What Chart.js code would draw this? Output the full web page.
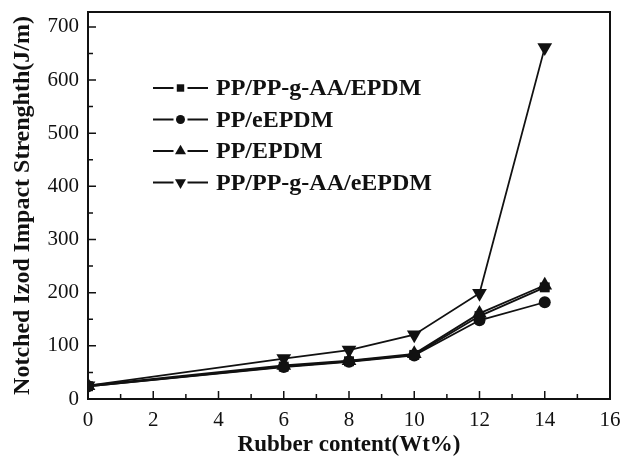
<!DOCTYPE html>
<html><head><meta charset="utf-8">
<script src="https://cdn.jsdelivr.net/npm/chart.js@4.4.0/dist/chart.umd.min.js"></script>
<style>html,body{margin:0;padding:0;background:#fff}canvas{display:block}</style>
</head><body>
<canvas id="c" width="621" height="461"></canvas>
<script>
// ---- data ----
const rubberContent = [0, 6, 8, 10, 12, 14];
const seriesNames = ['PP/PP-g-AA/EPDM', 'PP/eEPDM', 'PP/EPDM', 'PP/PP-g-AA/eEPDM'];
const ppGaaEpdm  = [24, 61, 71, 83, 156, 210];
const ppEepdm    = [24, 60, 70, 82, 148, 182];
const ppEpdm     = [25, 63, 72, 85, 161, 214];
const ppGaaEepdm = [25, 76, 92, 121, 199, 661];
const xMajorTicks = [0, 2, 4, 6, 8, 10, 12, 14, 16];
const xMinorTicks = [1, 3, 5, 7, 9, 11, 13, 15];
const yMajorTicks = [0, 100, 200, 300, 400, 500, 600, 700];
const yMinorTicks = [50, 150, 250, 350, 450, 550, 650];
const xTitle = 'Rubber content(Wt%)';
const yTitle = 'Notched Izod Impact Strenghth(J/m)';

const serif = "'Liberation Serif', 'Times New Roman', serif";
const toPts = vals => rubberContent.map((x, i) => ({x, y: vals[i]}));

const styles = [
  {pointStyle: 'rect', radius: 7, rotation: 0},
  {pointStyle: 'circle', radius: 6, rotation: 0},
  {pointStyle: 'triangle', radius: 8.5, rotation: 0},
  {pointStyle: 'triangle', radius: 8.5, rotation: 180}
];
const allSeries = [ppGaaEpdm, ppEepdm, ppEpdm, ppGaaEepdm];

const datasets = allSeries.map((vals, i) => ({
  label: seriesNames[i],
  data: toPts(vals),
  borderColor: '#111',
  backgroundColor: '#111',
  borderWidth: 1.8,
  pointStyle: styles[i].pointStyle,
  pointRadius: styles[i].radius,
  pointRotation: styles[i].rotation,
  pointBackgroundColor: '#111',
  pointBorderColor: '#111',
  pointBorderWidth: 0,
  tension: 0
}));

const framePlugin = {
  id: 'frame',
  afterDraw(chart) {
    const {ctx, chartArea: a, scales: {x, y}} = chart;
    ctx.save();
    ctx.strokeStyle = '#111';
    ctx.lineWidth = 2;
    ctx.strokeRect(a.left, a.top, a.right - a.left, a.bottom - a.top);
    ctx.lineWidth = 1.5;
    ctx.beginPath();
    xMajorTicks.forEach(v => { const p = x.getPixelForValue(v); ctx.moveTo(p, a.bottom); ctx.lineTo(p, a.bottom - 8); });
    xMinorTicks.forEach(v => { const p = x.getPixelForValue(v); ctx.moveTo(p, a.bottom); ctx.lineTo(p, a.bottom - 5); });
    yMajorTicks.forEach(v => { const p = y.getPixelForValue(v); ctx.moveTo(a.left, p); ctx.lineTo(a.left + 8, p); });
    yMinorTicks.forEach(v => { const p = y.getPixelForValue(v); ctx.moveTo(a.left, p); ctx.lineTo(a.left + 5, p); });
    ctx.stroke();
    // legend
    const lx = 153, ly0 = 88, dy = 31.5, lineLen = 55;
    ctx.font = "bold 24px " + serif;
    ctx.textBaseline = 'middle';
    ctx.textAlign = 'left';
    chart.data.datasets.forEach((ds, i) => {
      const yy = ly0 + i * dy;
      ctx.strokeStyle = '#111';
      ctx.lineWidth = 2;
      ctx.beginPath(); ctx.moveTo(lx, yy); ctx.lineTo(lx + lineLen, yy); ctx.stroke();
      ctx.fillStyle = '#fff';
      ctx.fillRect(lx + lineLen / 2 - 7, yy - 7, 14, 14);
      ctx.fillStyle = '#111';
      Chart.helpers.drawPoint(ctx, {pointStyle: ds.pointStyle, radius: ds.pointRadius * 0.75, rotation: ds.pointRotation, borderWidth: 0}, lx + lineLen / 2, yy);
      ctx.fillText(ds.label, lx + lineLen + 8, yy + 1);
    });
    ctx.restore();
  }
};

new Chart(document.getElementById('c'), {
  type: 'line',
  data: {datasets},
  plugins: [framePlugin],
  options: {
    responsive: false,
    animation: false,
    devicePixelRatio: 1,
    layout: {padding: {top: 12, right: 11, left: 0, bottom: 0}},
    plugins: {legend: {display: false}, tooltip: {enabled: false}},
    scales: {
      x: {
        type: 'linear', min: 0, max: 16,
        afterBuildTicks: s => { s.ticks = xMajorTicks.map(v => ({value: v})); },
        afterFit: s => { s.height = 62; s.paddingLeft = 0; s.paddingRight = 0; },
        grid: {display: false, drawTicks: false, tickLength: 0},
        border: {display: true, color: '#111', width: 2},
        ticks: {color: '#111', font: {family: serif, size: 21}, padding: 9, maxRotation: 0},
        title: {display: true, text: xTitle, color: '#111', font: {family: serif, size: 23, weight: 'bold', lineHeight: 1.2}, padding: {top: 0, bottom: 2}}
      },
      y: {
        type: 'linear', min: 0, max: 728,
        afterBuildTicks: s => { s.ticks = yMajorTicks.map(v => ({value: v})); },
        afterFit: s => { s.width = 88; s.paddingTop = 0; s.paddingBottom = 0; },
        grid: {display: false, drawTicks: false, tickLength: 0},
        border: {display: true, color: '#111', width: 2},
        ticks: {color: '#111', font: {family: serif, size: 21}, padding: 9},
        title: {display: true, text: yTitle, color: '#111', font: {family: serif, size: 24, weight: 'bold', lineHeight: 1.2}, padding: {top: 8, bottom: 0}}
      }
    }
  }
});
</script>
</body></html>
